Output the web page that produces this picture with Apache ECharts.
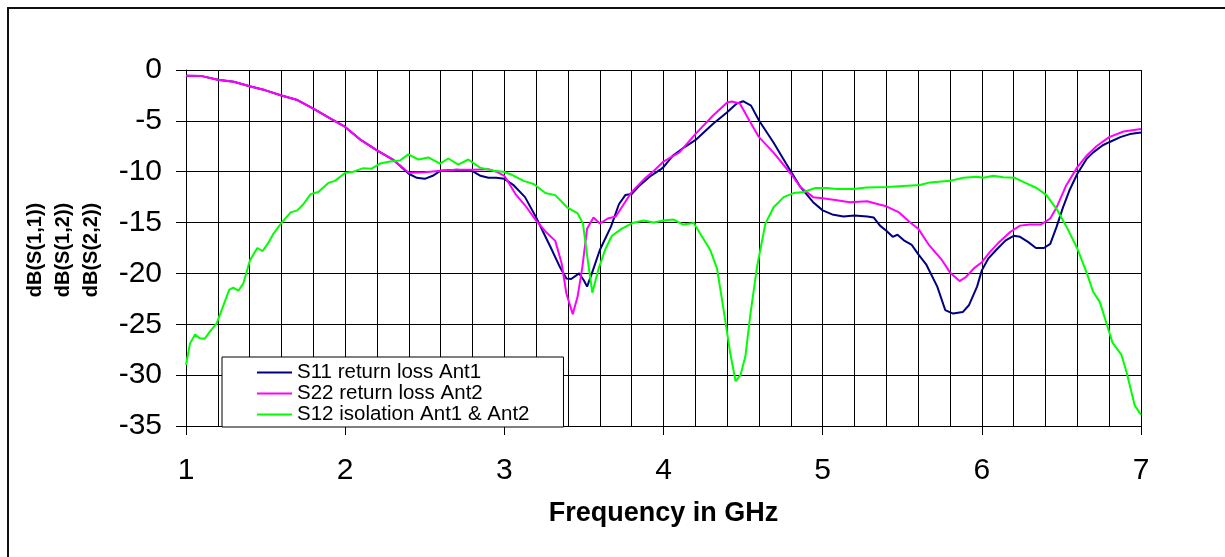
<!DOCTYPE html>
<html>
<head>
<meta charset="utf-8">
<script src="https://cdn.jsdelivr.net/npm/echarts@6/dist/echarts.min.js"></script>
<style>
  html, body { margin: 0; padding: 0; background: #fff; }
  #main { width: 1225px; height: 557px; }
</style>
</head>
<body>
<div id="main"></div>
<script>
// S11 return loss, antenna 1
const s11Freq = [1.00, 1.10, 1.20, 1.30, 1.40, 1.50, 1.60, 1.70, 1.80, 1.90, 2.00, 2.10, 2.20, 2.30, 2.40, 2.45, 2.50, 2.55, 2.60, 2.70, 2.80, 2.85, 2.90, 2.95, 3.00,
  3.06, 3.13, 3.20, 3.29, 3.35, 3.39, 3.42, 3.47, 3.50, 3.52, 3.55, 3.60, 3.67, 3.72, 3.76, 3.80, 3.85, 3.92, 3.98, 4.00, 4.06, 4.13, 4.20,
  4.31, 4.40, 4.46, 4.50, 4.55, 4.60, 4.69, 4.77, 4.86, 4.94, 5.00, 5.06, 5.13, 5.20, 5.28, 5.32, 5.36, 5.40, 5.44, 5.47, 5.51, 5.56, 5.60,
  5.65, 5.72, 5.77, 5.82, 5.88, 5.92, 5.97, 6.00, 6.04, 6.09, 6.15, 6.20, 6.24, 6.29, 6.34, 6.39, 6.43, 6.47, 6.51, 6.55, 6.60, 6.66, 6.70,
  6.76, 6.80, 6.87, 6.93, 7.00];
const s11Db = [-0.56, -0.6, -0.95, -1.15, -1.6, -2.0, -2.5, -2.95, -3.8, -4.7, -5.6, -6.9, -7.9, -8.8, -10.2, -10.6, -10.7, -10.4, -9.9, -9.8, -9.95, -10.4, -10.6, -10.6, -10.7,
  -11.35, -12.5, -14.5, -17.4, -19.4, -20.5, -20.55, -20.0, -20.7, -21.3, -20.0, -17.7, -15.4, -13.2, -12.3, -12.2, -11.35, -10.4, -9.8, -9.55, -8.4, -7.6, -6.9,
  -5.3, -4.15, -3.3, -3.07, -3.5, -4.97, -7.1, -9.2, -11.5, -13.0, -13.8, -14.2, -14.4, -14.3, -14.4, -14.5, -15.3, -15.8, -16.4, -16.2, -16.75, -17.2, -18.1,
  -19.1, -21.3, -23.6, -23.95, -23.8, -23.1, -21.3, -19.7, -18.55, -17.7, -16.75, -16.3, -16.4, -16.9, -17.5, -17.5, -17.1, -15.4, -13.5, -11.85, -10.2, -8.7, -8.1,
  -7.4, -7.1, -6.6, -6.3, -6.15];

// S22 return loss, antenna 2
const s22Freq = [1.00, 1.10, 1.20, 1.30, 1.40, 1.50, 1.60, 1.70, 1.80, 1.90, 2.00, 2.10, 2.20, 2.30, 2.40, 2.50, 2.60, 2.70, 2.80, 2.90, 2.95, 3.00,
  3.07, 3.13, 3.20, 3.26, 3.32, 3.36, 3.39, 3.43, 3.46, 3.49, 3.52, 3.56, 3.60, 3.65, 3.70, 3.75, 3.80, 3.88, 3.94, 4.00, 4.10, 4.20, 4.31,
  4.40, 4.43, 4.48, 4.54, 4.60, 4.69, 4.80, 4.86, 4.94, 5.00, 5.09, 5.17, 5.28, 5.35, 5.40, 5.48, 5.55, 5.60, 5.67, 5.75, 5.80, 5.86, 5.90,
  5.95, 6.00, 6.05, 6.11, 6.18, 6.24, 6.30, 6.37, 6.43, 6.47, 6.53, 6.60, 6.66, 6.72, 6.80, 6.89, 7.00];
const s22Db = [-0.56, -0.6, -0.95, -1.15, -1.6, -2.0, -2.5, -2.95, -3.8, -4.7, -5.6, -6.9, -7.9, -8.8, -10.1, -10.05, -9.9, -9.8, -9.8, -9.75, -10.0, -10.4,
  -12.2, -13.3, -14.8, -15.9, -16.8, -19.0, -22.0, -24.0, -22.3, -19.4, -15.6, -14.5, -15.1, -14.6, -14.4, -13.2, -12.0, -10.7, -9.9, -9.0, -8.1, -6.3, -4.5,
  -3.2, -3.1, -3.3, -5.0, -6.6, -8.1, -10.2, -11.5, -12.5, -12.6, -12.8, -13.0, -12.9, -13.2, -13.4, -14.0, -15.0, -15.6, -17.25, -18.7, -19.9, -20.75, -20.35,
  -19.5, -18.9, -17.9, -16.9, -15.9, -15.3, -15.2, -15.2, -14.6, -13.5, -11.35, -9.55, -8.4, -7.5, -6.6, -6.05, -5.8];

// S12 isolation between antennas
const s12Freq = [1.00, 1.025, 1.057, 1.088, 1.119, 1.151, 1.193, 1.224, 1.272, 1.297, 1.329, 1.360, 1.402, 1.448, 1.482, 1.517, 1.549, 1.601, 1.658, 1.699,
  1.737, 1.783, 1.831, 1.894, 1.936, 2.001, 2.051, 2.114, 2.166, 2.219, 2.282, 2.344, 2.397, 2.460, 2.523, 2.596, 2.648, 2.711, 2.774, 2.847, 2.931,
  2.994, 3.048, 3.121, 3.184, 3.258, 3.320, 3.394, 3.461, 3.494, 3.524, 3.553, 3.593, 3.635, 3.676, 3.739, 3.804, 3.875, 3.938, 4.001, 4.064, 4.123,
  4.190, 4.231, 4.294, 4.336, 4.378, 4.420, 4.453, 4.483, 4.514, 4.546, 4.587, 4.640, 4.692, 4.755, 4.818, 4.881, 4.954, 5.027, 5.088, 5.193, 5.276,
  5.402, 5.506, 5.611, 5.674, 5.800, 5.883, 5.967, 6.009, 6.072, 6.134, 6.208, 6.260, 6.344, 6.406, 6.469, 6.532, 6.601, 6.658, 6.699, 6.741, 6.783,
  6.821, 6.877, 6.909, 6.961, 7.00];
const s12Db = [-29.0, -26.9, -26.0, -26.4, -26.4, -25.7, -24.9, -23.6, -21.6, -21.4, -21.7, -21.0, -18.7, -17.5, -17.8, -17.0, -16.1, -15.0, -14.0, -13.8,
  -13.2, -12.2, -12.0, -11.1, -10.9, -10.1, -10.0, -9.65, -9.7, -9.2, -9.0, -8.9, -8.3, -8.8, -8.6, -9.2, -8.7, -9.3, -8.8, -9.6, -9.9,
  -10.0, -10.3, -10.9, -11.2, -12.1, -12.3, -13.5, -14.1, -15.1, -18.7, -21.9, -19.5, -17.6, -16.3, -15.6, -15.05, -14.8, -15.0, -14.8, -14.7, -15.2,
  -15.05, -16.1, -17.7, -19.5, -23.6, -27.9, -30.6, -30.0, -28.2, -24.0, -19.4, -15.1, -13.5, -12.5, -12.1, -12.0, -11.6, -11.6, -11.7, -11.7, -11.55,
  -11.5, -11.4, -11.3, -11.05, -10.9, -10.6, -10.5, -10.6, -10.4, -10.55, -10.6, -11.0, -11.6, -12.3, -13.65, -15.4, -17.6, -19.9, -21.8, -22.8, -24.9,
  -26.8, -28.0, -29.7, -33.0, -33.9];

const seriesNames = ["S11 return loss Ant1", "S22 return loss Ant2", "S12 isolation Ant1 & Ant2"];
const seriesColors = ["#000080", "#ff00ff", "#00ff00"];
const yTitleLines = ["dB(S(1,1))", "dB(S(1,2))", "dB(S(2,2))"];

const font = "Liberation Sans, Arial, sans-serif";

function pairs(xs, ys) {
  return xs.map((x, i) => [x, ys[i]]);
}

const myChart = echarts.init(document.getElementById("main"), null, { renderer: "canvas" });

const gridLine = { show: true, lineStyle: { color: "#000", width: 1 } };

const options = {
  animation: false,
  backgroundColor: "#fff",
  grid: { left: 186, top: 70, width: 955, height: 356, containLabel: false },
  xAxis: {
    type: "value",
    min: 1,
    max: 7,
    interval: 1,
    name: "Frequency in GHz",
    nameLocation: "middle",
    nameGap: 88,
    nameTextStyle: { fontFamily: font, fontSize: 27, fontWeight: "bold", color: "#000", verticalAlign: "middle" },
    axisLine: { show: true, onZero: false, lineStyle: { color: "#000", width: 1 } },
    axisTick: { show: true, inside: false, length: 9, lineStyle: { color: "#000" } },
    axisLabel: { fontFamily: font, fontSize: 30, color: "#000", margin: 30 },
    splitLine: gridLine,
    minorTick: { show: false, splitNumber: 5 },
    minorSplitLine: { show: true, lineStyle: { color: "#000", width: 1 } }
  },
  yAxis: {
    type: "value",
    min: -35,
    max: 0,
    interval: 5,
    axisLine: { show: true, onZero: false, lineStyle: { color: "#000", width: 1 } },
    axisTick: { show: true, inside: false, length: 10, lineStyle: { color: "#000" } },
    axisLabel: { fontFamily: font, fontSize: 30, color: "#000", margin: 24 },
    splitLine: gridLine
  },
  legend: {
    orient: "vertical",
    left: 222,
    top: 357,
    padding: [5, 34, 2, 35],
    backgroundColor: "#fff",
    borderColor: "#000",
    borderWidth: 1,
    borderRadius: 0,
    icon: "rect",
    itemWidth: 35,
    itemHeight: 2,
    itemGap: 0,
    textStyle: { fontFamily: font, fontSize: 20.5, color: "#000", lineHeight: 19.5 },
    data: seriesNames
  },
  graphic: [
    {
      type: "rect",
      silent: true,
      shape: { x: 8, y: 8, width: 1400, height: 800 },
      style: { fill: "none", stroke: "#111", lineWidth: 2 }
    },
    {
      type: "text",
      silent: true,
      x: 63,
      y: 250,
      rotation: Math.PI / 2,
      style: {
        text: yTitleLines.join("\n"),
        font: "bold 20px " + font,
        fill: "#000",
        align: "center",
        verticalAlign: "middle",
        lineHeight: 28
      }
    }
  ],
  series: [
    { name: seriesNames[0], data: pairs(s11Freq, s11Db) },
    { name: seriesNames[1], data: pairs(s22Freq, s22Db) },
    { name: seriesNames[2], data: pairs(s12Freq, s12Db) }
  ].map((s, i) => Object.assign(s, {
    type: "line",
    symbol: "none",
    showSymbol: false,
    smooth: false,
    color: seriesColors[i],
    itemStyle: { color: seriesColors[i] },
    lineStyle: { color: seriesColors[i], width: 2 }
  }))
};

myChart.setOption(options);
</script>
</body>
</html>
